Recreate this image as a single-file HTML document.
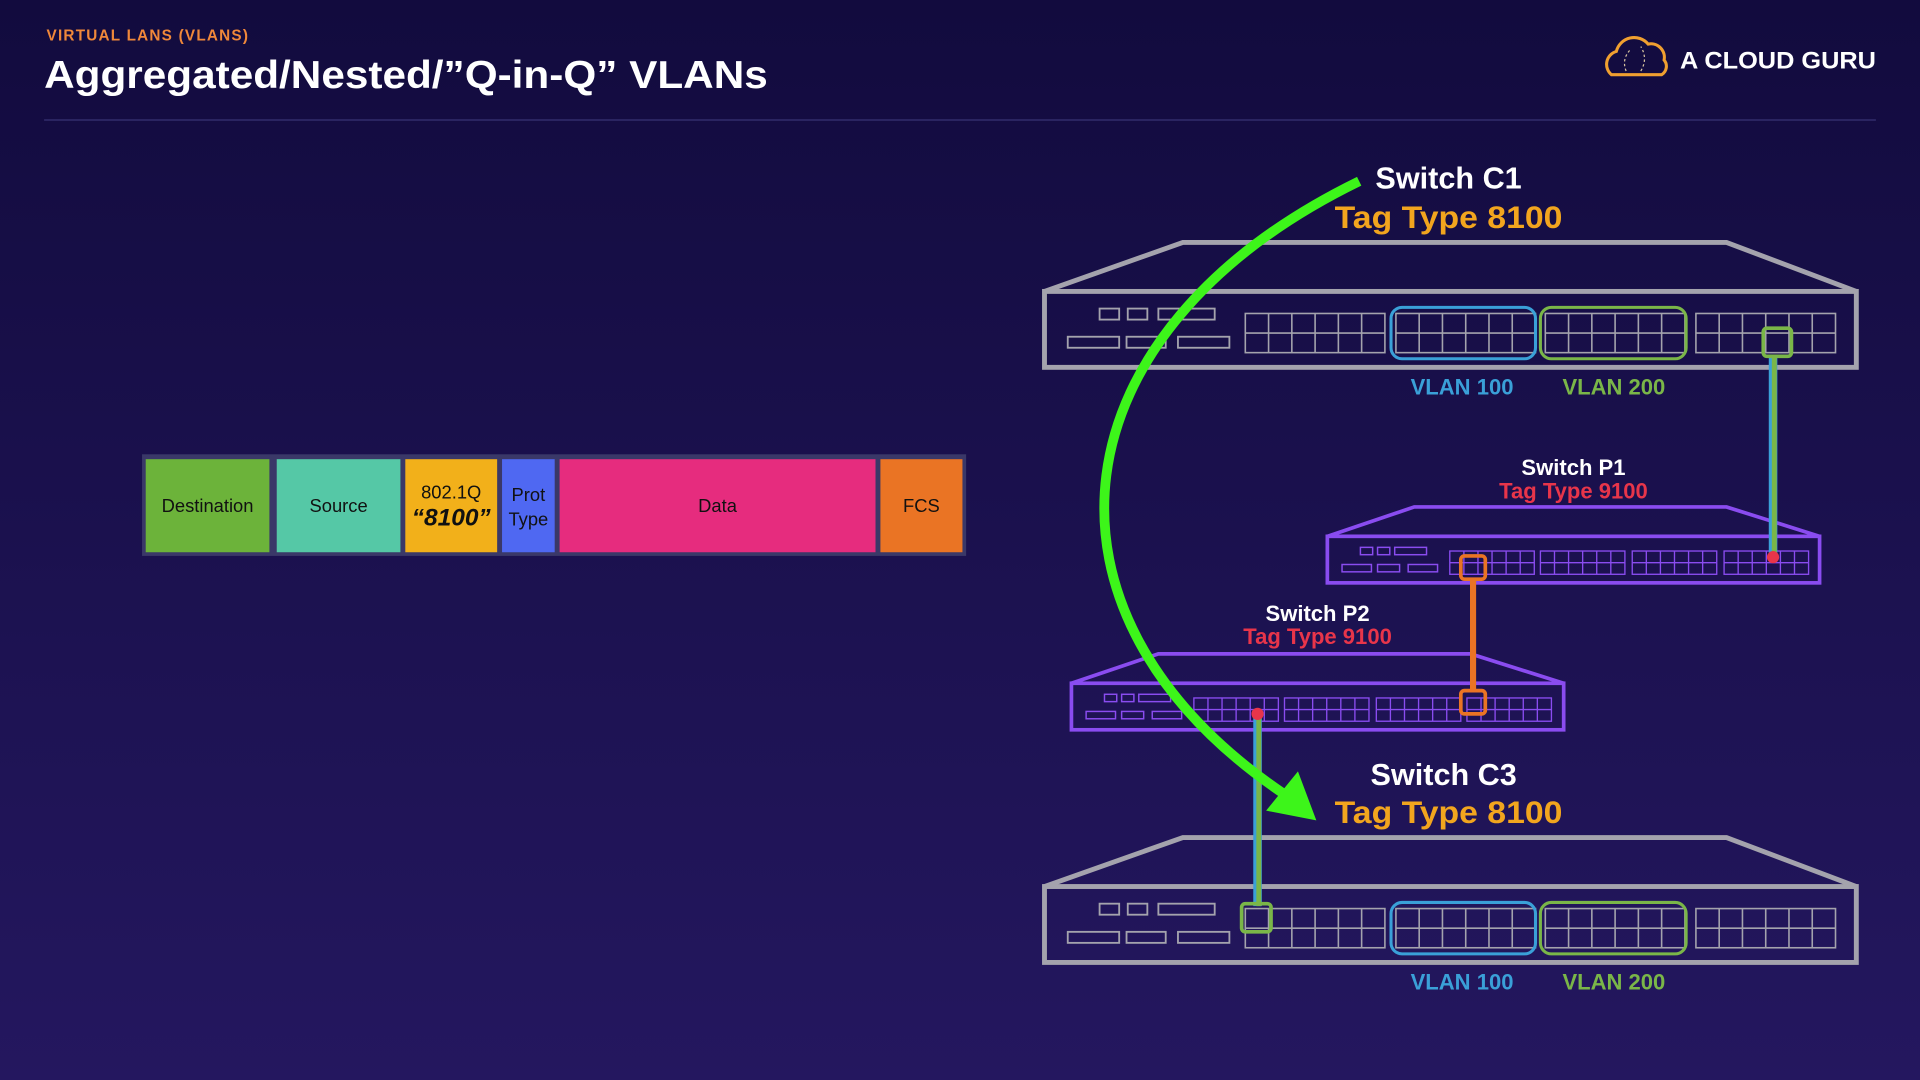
<!DOCTYPE html>
<html><head><meta charset="utf-8"><style>
html,body{margin:0;padding:0;width:1920px;height:1080px;overflow:hidden;background:#150d45}
svg{display:block}
text{font-family:"Liberation Sans",sans-serif;font-weight:bold}
</style></head><body>
<svg id="s" width="1920" height="1080" viewBox="0 0 1568 882" xmlns="http://www.w3.org/2000/svg">
<defs>
<linearGradient id="bg" x1="0" y1="0" x2="0" y2="1">
<stop offset="0" stop-color="#120b3e"/><stop offset="1" stop-color="#24175f"/></linearGradient>
</defs>
<rect width="1568" height="882" fill="url(#bg)"/>
<text x="38" y="33" font-size="12.5" fill="#f0883a" letter-spacing="1">VIRTUAL LANS (VLANS)</text>
<text x="36" y="72" font-size="32" fill="#fff" textLength="591" lengthAdjust="spacingAndGlyphs">Aggregated/Nested/”Q-in-Q” VLANs</text>
<line x1="36" y1="98" x2="1532" y2="98" stroke="#2e2766" stroke-width="1.5"/>
<!-- logo -->
<g fill="none" stroke="#f0a030" stroke-width="2.5">
<path d="M1316,61 a11,11 0 0 1 4,-19 a15,15 0 0 1 26,-6 a11,11 0 0 1 13,13 a8,8 0 0 1 -2,12 z"/>
</g>
<path d="M1328,58 q-4,-10 4,-18 M1340,58 q6,-10 0,-20" fill="none" stroke="#d8c6a0" stroke-width="1" stroke-dasharray="2 2"/>
<text x="1372" y="56" font-size="19.5" fill="#fff" textLength="160" lengthAdjust="spacingAndGlyphs">A CLOUD GURU</text>
<!-- frame -->
<rect x="116" y="371" width="673" height="83" fill="#3a3868"/>
<rect x="119" y="375" width="101" height="76" fill="#6cb33a"/>
<rect x="226" y="375" width="101" height="76" fill="#55c8a6"/>
<rect x="331" y="375" width="75" height="76" fill="#f2b01a"/>
<rect x="410" y="375" width="43" height="76" fill="#4f68f2"/>
<rect x="457" y="375" width="258" height="76" fill="#e62c7e"/>
<rect x="719" y="375" width="67" height="76" fill="#ea7424"/>
<g font-size="15" fill="#111" text-anchor="middle">
<text x="169.5" y="418" style="font-weight:normal">Destination</text>
<text x="276.5" y="418" style="font-weight:normal">Source</text>
<text x="368.5" y="407" style="font-weight:normal">802.1Q</text>
<text x="368.5" y="429" font-size="20" font-style="italic">“8100”</text>
<text x="431.5" y="409" style="font-weight:normal">Prot</text>
<text x="431.5" y="429" style="font-weight:normal">Type</text>
<text x="586" y="418" style="font-weight:normal">Data</text>
<text x="752.5" y="418" style="font-weight:normal">FCS</text>
</g>
<g id="sw"></g>
<!-- labels -->
<g text-anchor="middle">
<text x="1183" y="154" font-size="25" fill="#fff">Switch C1</text>
<text x="1183" y="186" font-size="26" fill="#f2a51e" textLength="186" lengthAdjust="spacingAndGlyphs">Tag Type 8100</text>
<text x="1179" y="641" font-size="25" fill="#fff">Switch C3</text>
<text x="1183" y="672" font-size="26" fill="#f2a51e" textLength="186" lengthAdjust="spacingAndGlyphs">Tag Type 8100</text>
<text x="1285" y="388" font-size="18" fill="#fff">Switch P1</text>
<text x="1285" y="407" font-size="18" fill="#e8354a">Tag Type 9100</text>
<text x="1076" y="507" font-size="18" fill="#fff">Switch P2</text>
<text x="1076" y="526" font-size="18" fill="#e8354a">Tag Type 9100</text>
<text x="1194" y="322" font-size="18" fill="#3aa0d8">VLAN 100</text>
<text x="1318" y="322" font-size="18" fill="#7ab648">VLAN 200</text>
<text x="1194" y="808" font-size="18" fill="#3aa0d8">VLAN 100</text>
<text x="1318" y="808" font-size="18" fill="#7ab648">VLAN 200</text>
</g>
<!-- links -->
<line x1="1448" y1="291" x2="1448" y2="455" stroke="#3aa0d8" stroke-width="7"/>
<line x1="1449" y1="291" x2="1449" y2="455" stroke="#7ab648" stroke-width="4"/>
<rect x="1440" y="268" width="23" height="23" rx="3" fill="none" stroke="#7ab648" stroke-width="3"/>
<circle cx="1448" cy="455" r="5" fill="#e8354a"/>
<line x1="1203" y1="473" x2="1203" y2="563" stroke="#ea7424" stroke-width="5"/>
<rect x="1193" y="454" width="20" height="19" rx="3" fill="none" stroke="#ea7424" stroke-width="3"/>
<rect x="1193" y="564" width="20" height="19" rx="3" fill="none" stroke="#ea7424" stroke-width="3"/>
<line x1="1027" y1="583" x2="1027" y2="740" stroke="#3aa0d8" stroke-width="7"/>
<line x1="1028" y1="583" x2="1028" y2="740" stroke="#7ab648" stroke-width="4"/>
<circle cx="1027" cy="583" r="5" fill="#e8354a"/>
<rect x="1014" y="738" width="24" height="23" rx="3" fill="none" stroke="#7ab648" stroke-width="3"/>
<!-- arrow -->
<path d="M1110,148 C860,270 830,500 1048,648" fill="none" stroke="#3df51a" stroke-width="8"/>
<polygon points="1075,670 1034,662 1060,630" fill="#3df51a"/>
</svg>
<script>
var g=document.getElementById('sw'),h='';
function R(x,y,w,hh,c,sw,rx){h+='<rect x="'+x+'" y="'+y+'" width="'+w+'" height="'+hh+'" fill="none" stroke="'+c+'" stroke-width="'+sw+'"'+(rx?' rx="'+rx+'"':'')+'/>';}
function grid(x,y,w,hh,c,sw){R(x,y,w,hh,c,sw);var d='';for(var i=1;i<6;i++){var xx=x+w*i/6;d+='M'+xx+','+y+'V'+(y+hh);}d+='M'+x+','+(y+hh/2)+'H'+(x+w);h+='<path d="'+d+'" stroke="'+c+'" stroke-width="'+sw+'" fill="none"/>';}
function big(oy){var c='#a4a3ad';
h+='<path d="M853,'+(238+oy)+' L966,'+(198+oy)+' L1410,'+(198+oy)+' L1516,'+(238+oy)+'" fill="none" stroke="'+c+'" stroke-width="4"/>';
R(853,238+oy,663,62,c,4);
R(898,252+oy,16,9,c,1.5);R(921,252+oy,16,9,c,1.5);R(946,252+oy,46,9,c,1.5);
R(872,275+oy,42,9,c,1.5);R(920,275+oy,32,9,c,1.5);R(962,275+oy,42,9,c,1.5);
[1017,1140,1262,1385].forEach(function(x){grid(x,256+oy,114,32,c,1.3);});
R(1136,251+oy,118,42,'#3aa0d8',2.5,9);R(1258,251+oy,119,42,'#7ab648',2.5,9);}
function small(x0,x1,oy,groups){var c='#8a4cf0';
h+='<path d="M'+x0+','+(438+oy)+' L'+(x0+71)+','+(414+oy)+' L'+(x1-76)+','+(414+oy)+' L'+x1+','+(438+oy)+'" fill="none" stroke="'+c+'" stroke-width="3"/>';
R(x0,438+oy,x1-x0,38,c,3);
R(x0+27,447+oy,10,6,c,1.2);R(x0+41,447+oy,10,6,c,1.2);R(x0+55,447+oy,26,6,c,1.2);
R(x0+12,461+oy,24,6,c,1.2);R(x0+41,461+oy,18,6,c,1.2);R(x0+66,461+oy,24,6,c,1.2);
groups.forEach(function(x){grid(x,450+oy,69,19,c,1.1);});}
big(0);big(486);
small(1084,1486,0,[1184,1258,1333,1408]);
small(875,1277,120,[975,1049,1124,1198]);
g.innerHTML=h;
</script>
</body></html>
